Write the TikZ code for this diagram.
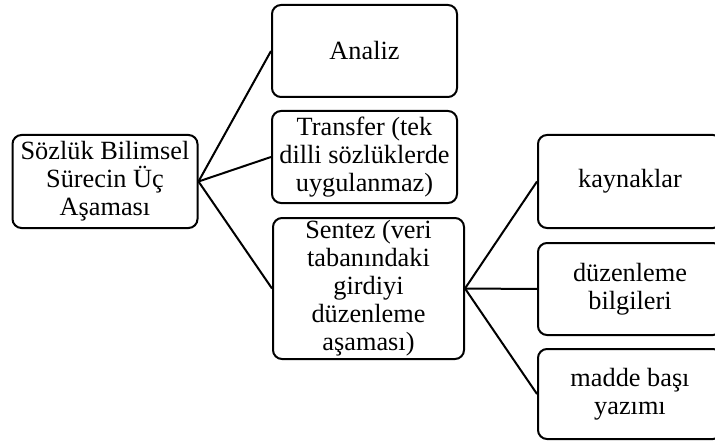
\documentclass[tikz,border=0pt]{standalone}
\usepackage{fontspec}
\setmainfont{Liberation Serif}
\usepackage{tikz}

\tikzset{
  stagebox/.style={draw, line width=2pt, rounded corners=9pt, align=center,
    minimum width=185pt, minimum height=92pt, inner sep=0pt,
    font=\fontsize{26.3}{28}\selectfont},
  branch/.style={line width=2pt}
}

\begin{document}
\begin{tikzpicture}[x=1pt,y=-1pt]
\path[use as bounding box, clip] (0,0) rectangle (715,441);
% left side
\node[stagebox, minimum height=93pt] (root) at (105,181.5) {Sözlük Bilimsel\\Sürecin Üç\\Aşaması};
\node[stagebox] (analiz) at (364.5,51) {Analiz};
\node[stagebox] (transfer) at (364.5,157) {Transfer (tek\\dilli sözlüklerde\\uygulanmaz)};
\node[stagebox, minimum width=191pt, minimum height=141pt] (sentez) at (368.5,288.5)
  {Sentez (veri\\tabanındaki\\girdiyi\\düzenleme\\aşaması)};
% right side
\node[stagebox, minimum width=184pt, minimum height=93pt] (kaynak) at (630,181.5) {kaynaklar};
\node[stagebox, minimum width=184pt] (duzen) at (630,289) {düzenleme\\bilgileri};
\node[stagebox, minimum width=184pt, minimum height=90pt] (madde) at (630,394) {madde başı\\yazımı};
\draw[branch] (root.east) -- (analiz.west);
\draw[branch] (root.east) -- (transfer.west);
\draw[branch] (root.east) -- (sentez.west);
\draw[branch] (sentez.east) -- (kaynak.west);
\draw[branch] (sentez.east) -- (duzen.west);
\draw[branch] (sentez.east) -- (madde.west);
\end{tikzpicture}
\end{document}
